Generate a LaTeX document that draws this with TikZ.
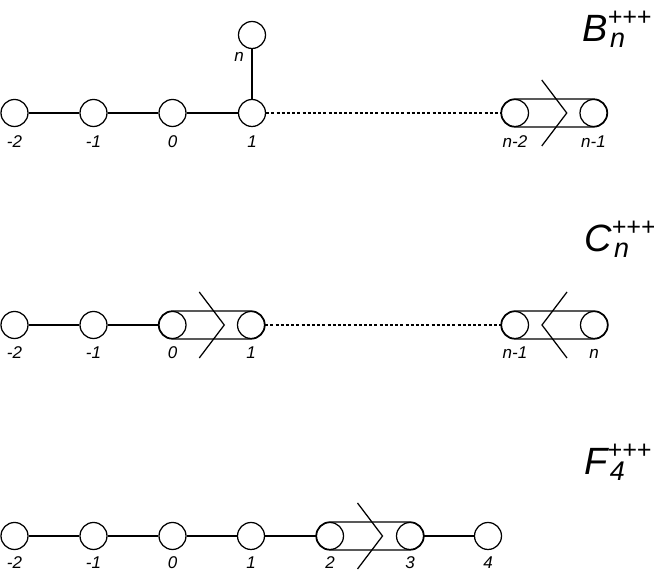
\documentclass[tikz,border=0pt]{standalone}
\usepackage{fontspec}
\setmainfont{Liberation Sans}
\usetikzlibrary{calc}
\begin{document}
\begin{tikzpicture}[x=1pt,y=1pt,
 dyn/.style={circle,draw,line width=1.25pt,minimum size=27pt,inner sep=0pt},
 bond/.style={line width=1.25pt},
 dotbond/.style={line width=1.25pt,dash pattern=on 3pt off 2.2pt},
 lab/.style={font=\fontsize{17}{17}\selectfont\itshape,inner sep=0pt,anchor=base},
 ttl/.style={font=\fontsize{38}{38}\selectfont\itshape,anchor=base west,inner sep=0pt}]
\useasboundingbox (0,0) rectangle (654,575);
\newcommand{\capsule}[2]{\draw[bond] ([yshift=14pt]#1.center) -- ([yshift=14pt]#2.center) arc[start angle=90,end angle=-90,radius=14pt] -- ([yshift=-14pt]#1.center) arc[start angle=270,end angle=90,radius=14pt] -- cycle;}
\newcommand{\chevR}[3]{\draw[bond] ($(#1)!0.5!(#2)+(-12.5,#3)$) -- ($(#1)!0.5!(#2)+(12.5,0)$) -- ($(#1)!0.5!(#2)+(-12.5,-#3)$);}
\newcommand{\chevL}[3]{\draw[bond] ($(#1)!0.5!(#2)+(12.5,#3)$) -- ($(#1)!0.5!(#2)+(-12.5,0)$) -- ($(#1)!0.5!(#2)+(12.5,-#3)$);}
\newcommand{\dynttl}[2]{#1\rlap{\raisebox{16pt}{\fontsize{25}{25}\selectfont +++}}\kern2.5pt\raisebox{-6pt}{\fontsize{27}{27}\selectfont #2}}
% ---------- B ----------
\node[dyn] (bm2) at (14.5,462) {};
\node[dyn] (bm1) at (93.5,462) {};
\node[dyn] (b0) at (172.5,462) {};
\node[dyn] (b1) at (252,462) {};
\node[dyn] (bn) at (252,540) {};
\node[dyn] (bn2) at (515,462) {};
\node[dyn] (bn1) at (593.5,462) {};
\draw[bond] (bm2) -- (bm1); \draw[bond] (bm1) -- (b0); \draw[bond] (b0) -- (b1);
\draw[bond] (b1) -- (bn);
\draw[dotbond] (b1) -- (bn2);
\capsule{bn2}{bn1}
\chevR{bn2}{bn1}{33}
\node[lab] (lbm2) at ([yshift=-35pt]bm2.center) {-2};
\node[lab] (lbm1) at ([yshift=-35pt]bm1.center) {-1};
\node[lab] (lb0) at ([yshift=-35pt]b0.center) {0};
\node[lab] (lb1) at ([yshift=-35pt]b1.center) {1};
\node[lab] (lbn2) at ([yshift=-35pt]bn2.center) {n-2};
\node[lab] (lbn1) at ([yshift=-35pt]bn1.center) {n-1};
\node[lab] (lbn) at ([xshift=-13pt,yshift=-27pt]bn.center) {n};
\node[ttl] (tB) at (582,533) {\dynttl{B}{n}};
% ---------- C ----------
\node[dyn] (cm2) at (14.5,250) {};
\node[dyn] (cm1) at (93.5,250) {};
\node[dyn] (c0) at (172.5,250) {};
\node[dyn] (c1) at (251,250) {};
\node[dyn] (cn1) at (515,250) {};
\node[dyn] (cn) at (594,250) {};
\draw[bond] (cm2) -- (cm1); \draw[bond] (cm1) -- (c0);
\draw[dotbond] (c1) -- (cn1);
\capsule{c0}{c1}
\chevR{c0}{c1}{33}
\capsule{cn1}{cn}
\chevL{cn1}{cn}{33}
\node[lab] (lcm2) at ([yshift=-34pt]cm2.center) {-2};
\node[lab] (lcm1) at ([yshift=-34pt]cm1.center) {-1};
\node[lab] (lc0) at ([yshift=-34pt]c0.center) {0};
\node[lab] (lc1) at ([yshift=-34pt]c1.center) {1};
\node[lab] (lcn1) at ([yshift=-34pt]cn1.center) {n-1};
\node[lab] (lcn) at ([yshift=-34pt]cn.center) {n};
\node[ttl] (tC) at (584,323) {\dynttl{C}{n}};
% ---------- F ----------
\node[dyn] (fm2) at (14.5,39) {};
\node[dyn] (fm1) at (93.5,39) {};
\node[dyn] (f0) at (172.5,39) {};
\node[dyn] (f1) at (251,39) {};
\node[dyn] (f2) at (330,39) {};
\node[dyn] (f3) at (410,39) {};
\node[dyn] (f4) at (488,39) {};
\draw[bond] (fm2) -- (fm1); \draw[bond] (fm1) -- (f0); \draw[bond] (f0) -- (f1);
\draw[bond] (f1) -- (f2); \draw[bond] (f3) -- (f4);
\capsule{f2}{f3}
\chevR{f2}{f3}{33}
\node[lab] (lfm2) at ([yshift=-33pt]fm2.center) {-2};
\node[lab] (lfm1) at ([yshift=-33pt]fm1.center) {-1};
\node[lab] (lf0) at ([yshift=-33pt]f0.center) {0};
\node[lab] (lf1) at ([yshift=-33pt]f1.center) {1};
\node[lab] (lf2) at ([yshift=-33pt]f2.center) {2};
\node[lab] (lf3) at ([yshift=-33pt]f3.center) {3};
\node[lab] (lf4) at ([yshift=-33pt]f4.center) {4};
\node[ttl] (tF) at (584,100) {\dynttl{F}{4}};
\end{tikzpicture}
\end{document}
